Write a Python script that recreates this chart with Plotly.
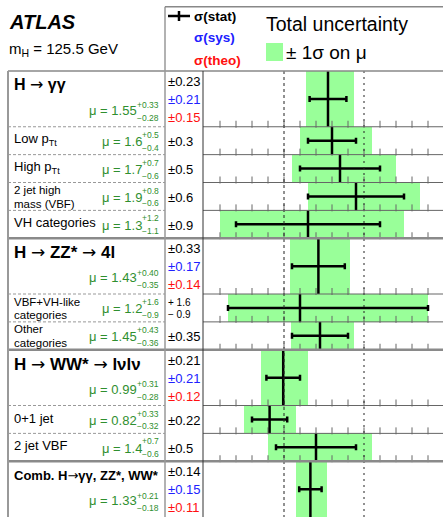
import plotly.graph_objects as go
import numpy as np

# ---------------- data ----------------
ARW = '<span style="font-family:DejaVu Sans;font-weight:normal">→</span>'
categories = ["H " + ARW + " γγ", "Low p<sub>Tt</sub>", "High p<sub>Tt</sub>", "2 jet high\nmass (VBF)", "VH categories",
              "H " + ARW + " ZZ* " + ARW + " 4l", "VBF+VH-like\ncategories", "Other\ncategories",
              "H " + ARW + " WW* " + ARW + " lνlν", "0+1 jet", "2 jet VBF", "Comb. H" + ARW + "γγ, ZZ*, WW*"]
is_main = [1, 0, 0, 0, 0, 1, 0, 0, 1, 0, 0, 1]
mu_val = [1.55, 1.6, 1.7, 1.9, 1.3, 1.43, 1.2, 1.45, 0.99, 0.82, 1.4, 1.33]
mu_label = ["1.55", "1.6", "1.7", "1.9", "1.3", "1.43", "1.2", "1.45", "0.99", "0.82", "1.4", "1.33"]
tot_up = [0.33, 0.5, 0.7, 0.8, 1.2, 0.40, 1.6, 0.43, 0.31, 0.33, 0.7, 0.21]
tot_dn = [0.28, 0.4, 0.6, 0.6, 1.1, 0.35, 0.9, 0.36, 0.28, 0.32, 0.6, 0.18]
stat_up = [0.23, 0.3, 0.5, 0.6, 0.9, 0.33, 1.6, 0.35, 0.21, 0.22, 0.5, 0.14]
stat_dn = [0.23, 0.3, 0.5, 0.6, 0.9, 0.33, 0.9, 0.35, 0.21, 0.22, 0.5, 0.14]
sys_err = [0.21, None, None, None, None, 0.17, None, None, 0.21, None, None, 0.15]
theo_err = [0.15, None, None, None, None, 0.14, None, None, 0.12, None, None, 0.11]

# ---------------- styles / geometry ----------------
W, H = 443, 517
FONT = "Liberation Sans, Arial, Helvetica, sans-serif"
GREEN_TXT = "#2f8f2f"
BLUE = "#2020ff"
RED = "#ff1010"
BAND = "#99ff99"
HDR = 71.0                     # pixel y of the header bottom
UNIT = (H - HDR) / 16.0        # pixels per row unit
title_size = {0: 16, 5: 17, 8: 17, 11: 13}

def px(x):
    return x / W

def py(y):
    return 1 - y / H

row_h = [2 if m else 1 for m in is_main]
tops = np.concatenate([[0], np.cumsum(row_h)[:-1]])
centers = tops + np.array(row_h) / 2.0
bottoms = tops + np.array(row_h)

fig = go.Figure()

# total-uncertainty bands
fig.add_trace(go.Bar(
    orientation="h",
    y=centers,
    x=[u + d for u, d in zip(tot_up, tot_dn)],
    base=[m - d for m, d in zip(mu_val, tot_dn)],
    width=row_h,
    marker=dict(color=BAND, line=dict(width=0)),
    showlegend=False, hoverinfo="skip",
))

# ticks on each row bottom
tick_x = np.round(np.arange(0.2, 2.81, 0.2), 2)
tx, ty = [], []
for b in bottoms[:-1]:
    for t in tick_x:
        tx.append(t)
        ty.append(b - 2.5 / UNIT)
fig.add_trace(go.Scatter(
    x=tx, y=ty, mode="markers",
    marker=dict(symbol="line-ns", size=5, line=dict(width=1, color="#666")),
    showlegend=False, hoverinfo="skip",
))

# stat error bars + central value line
fig.add_trace(go.Scatter(
    x=mu_val, y=centers, mode="markers",
    marker=dict(size=1, color="black"),
    error_x=dict(type="data", symmetric=False, array=stat_up, arrayminus=stat_dn,
                 color="black", thickness=2.5, width=3),
    error_y=dict(type="data", symmetric=True, array=[h / 2.0 for h in row_h],
                 color="black", thickness=2.5, width=0),
    showlegend=False, hoverinfo="skip",
))

shapes = []
ann = []

def line(x0, y0, x1, y1, color, width, dash="solid", xref="paper", yref="paper", layer="above"):
    shapes.append(dict(type="line", x0=x0, y0=y0, x1=x1, y1=y1, xref=xref, yref=yref,
                       line=dict(color=color, width=width, dash=dash), layer=layer))

def text(x, y, s, size, color="black", xanchor="left", yref="paper", bold=False):
    if bold:
        s = "<b>" + s + "</b>"
    ann.append(dict(x=x, y=y, xref="paper", yref=yref, text=s, showarrow=False,
                    xanchor=xanchor, yanchor="middle",
                    font=dict(family=FONT, size=size, color=color)))

# reference lines at mu = 1 and mu = 2
line(1, 0, 1, 16, "#222", 1, dash="dot", xref="x", yref="y")
line(2, 0, 2, 16, "#222", 1, dash="2px,4px", xref="x", yref="y")

# row separators
for i in range(len(categories) - 1):
    b = bottoms[i]
    if is_main[i + 1]:
        line(px(8), b, 1, b, "#8a8a8a", 2.5, yref="y")
    else:
        line(px(8), b, px(165), b, "#999", 1, dash="3px,2px", yref="y")
        line(px(203), b, 1, b, "#666", 1, yref="y")

# frame lines
line(px(8), py(HDR), 1, py(HDR), "#888", 1.5)
line(px(8), py(HDR), px(8), 0, "#999", 2)
line(px(165), py(6.7), px(165), 0, "#999", 1.5)
line(px(203), py(HDR), px(203), 0, "#333", 1)
line(px(165), py(6.7), 1, py(6.7), "#888", 1.5)

# header texts
text(px(7), py(22), "<i>ATLAS</i>", 20, bold=True)
text(px(7), py(50), "m<sub>H</sub> = 125.5 GeV", 15)
# legend
line(px(168), py(16), px(190), py(16), "black", 2.5)
line(px(179), py(11), px(179), py(21), "black", 2.5)
text(px(192), py(16), "σ(stat)", 13.5, bold=True)
text(px(192), py(38), "σ(sys)", 13.5, color=BLUE, bold=True)
text(px(192), py(60), "σ(theo)", 13.5, color=RED, bold=True)
text(px(264), py(24), "Total uncertainty", 19.5)
shapes.append(dict(type="rect", xref="paper", yref="paper", x0=px(266), x1=px(283),
                   y0=py(43), y1=py(61), fillcolor=BAND, line=dict(width=0)))
text(px(284), py(52), "± 1σ on μ", 19)

# row texts
def sup_w(s, size):
    return size * (0.862 + 0.556 * (len(s) - 2))

for i, cat in enumerate(categories):
    t = tops[i]
    main = is_main[i]
    if len(mu_label[i]) >= 4:
        sup = "+%.2f" % tot_up[i]
        sub = "−%.2f" % tot_dn[i]
    else:
        sup = "+%.1f" % tot_up[i]
        sub = "−%.1f" % tot_dn[i]
    ssize = 8.5
    w = max(sup_w(sup, ssize), sup_w(sub, ssize))
    if main:
        text(px(12), t + 0.5, cat, title_size[i], yref="y", bold=True)
        my = t + 1.42
        text(px(165 - 4.5 - w), my, "μ = " + mu_label[i], 13, color=GREEN_TXT, xanchor="right", yref="y")
        text(px(161), my - 0.19, sup, ssize, color=GREEN_TXT, xanchor="right", yref="y")
        text(px(161), my + 0.27, sub, ssize, color=GREEN_TXT, xanchor="right", yref="y")
        text(px(165.5), t + 0.38, "±%.2f" % stat_up[i], 13, yref="y")
        text(px(165.5), t + 1.02, "±%.2f" % sys_err[i], 13, color=BLUE, yref="y")
        text(px(165.5), t + 1.67, "±%.2f" % theo_err[i], 13, color=RED, yref="y")
    else:
        lines = cat.split("\n")
        if len(lines) == 1:
            text(px(12), t + 0.45, lines[0], 13, yref="y")
        else:
            text(px(12), t + 0.27, lines[0], 11.5, yref="y")
            text(px(12), t + 0.76, lines[1], 11.5, yref="y")
        my = t + 0.53
        text(px(165 - 4.5 - w), my, "μ = " + mu_label[i], 13, color=GREEN_TXT, xanchor="right", yref="y")
        text(px(161), my - 0.24, sup, ssize, color=GREEN_TXT, xanchor="right", yref="y")
        text(px(161), my + 0.22, sub, ssize, color=GREEN_TXT, xanchor="right", yref="y")
        if stat_up[i] == stat_dn[i]:
            text(px(165.5), t + 0.53, "±%g" % stat_up[i], 13, yref="y")
        else:
            text(px(165.5), t + 0.31, "+ %g" % stat_up[i], 10, yref="y")
            text(px(165.5), t + 0.72, "− %g" % stat_dn[i], 10, yref="y")

fig.update_layout(
    width=W, height=H,
    margin=dict(l=0, r=0, t=0, b=0),
    paper_bgcolor="white", plot_bgcolor="rgba(0,0,0,0)",
    showlegend=False,
    barmode="overlay",
    bargap=0,
    xaxis=dict(domain=[204 / W, 1], range=[0, (W - 204) / 80.0], showgrid=False, zeroline=False,
               showticklabels=False, ticks="", showline=False, fixedrange=True),
    yaxis=dict(domain=[0, (H - HDR) / H], range=[16, 0], showgrid=False, zeroline=False,
               showticklabels=False, ticks="", showline=False, fixedrange=True),
    shapes=shapes,
    annotations=ann,
    font=dict(family=FONT),
)

fig.write_html("out.html", config={"displayModeBar": False},
               post_script="document.body.style.margin='0px';document.body.style.overflow='hidden';")
